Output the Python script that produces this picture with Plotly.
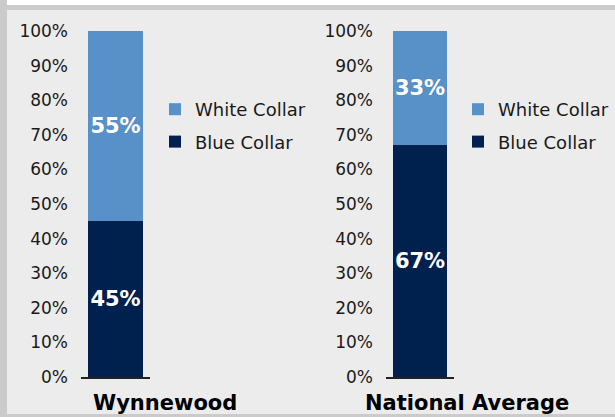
import plotly.graph_objects as go

W, H = 615, 417

locations = ["Wynnewood", "National Average"]
series_names = ["Blue Collar", "White Collar"]
blue_collar = [45, 67]
white_collar = [55, 33]
tick_values = [0, 10, 20, 30, 40, 50, 60, 70, 80, 90, 100]
tick_labels = [f"{v}%" for v in tick_values]

colors = {"Blue Collar": "#00204e", "White Collar": "#5890c8"}
legend_rank = {"White Collar": 1, "Blue Collar": 2}
FONT = "DejaVu Sans"

def px(x):
    return x / W

def py(y):
    return 1 - y / H

fig = go.Figure()

x_domains = [[px(81), px(150)], [px(386), px(454)]]
legend_pos = [px(155), px(458)]
title_x = [px(165), px(467)]

for i, loc in enumerate(locations):
    xa = "x" if i == 0 else "x2"
    ya = "y" if i == 0 else "y2"
    lg = "legend" if i == 0 else "legend2"
    for name, vals in (("Blue Collar", blue_collar), ("White Collar", white_collar)):
        fig.add_trace(go.Bar(
            x=[loc], y=[vals[i]], name=name,
            marker=dict(color=colors[name], line=dict(width=0)),
            width=0.79,
            text=[f"{vals[i]}%"], textposition="inside", insidetextanchor="middle",
            textangle=0, constraintext="none",
            textfont=dict(family=FONT, size=21, color="white", weight="bold"),
            xaxis=xa, yaxis=ya, legend=lg, legendgroup=name + str(i),
            legendrank=legend_rank[name],
            hoverinfo="skip",
        ))

axis_common_y = dict(
    range=[0, 100], tickmode="array", tickvals=tick_values, ticktext=tick_labels,
    showgrid=False, zeroline=False, showline=False, ticks="",
    ticklabelstandoff=12, automargin=False,
    tickfont=dict(family=FONT, size=17, color="#1a1a1a"),
    domain=[py(377), py(31)], fixedrange=True,
)
axis_common_x = dict(
    showticklabels=False, showgrid=False, zeroline=False, automargin=False,
    showline=True, linecolor="#222222", linewidth=2, ticks="",
    fixedrange=True,
)

legend_common = dict(
    traceorder="grouped", tracegroupgap=6,
    font=dict(family=FONT, size=18, color="#1a1a1a"),
    bgcolor="rgba(0,0,0,0)", borderwidth=0,
    xanchor="left", yanchor="top", y=py(91),
)

fig.update_layout(
    width=W, height=H, autosize=False,
    margin=dict(l=0, r=0, t=0, b=0, pad=0, autoexpand=False),
    paper_bgcolor="#ececec", plot_bgcolor="rgba(0,0,0,0)",
    barmode="stack", bargap=0.21,
    xaxis=dict(domain=x_domains[0], anchor="y", **axis_common_x),
    xaxis2=dict(domain=x_domains[1], anchor="y2", **axis_common_x),
    yaxis=dict(anchor="x", **axis_common_y),
    yaxis2=dict(anchor="x2", **axis_common_y),
    legend=dict(x=legend_pos[0], **legend_common),
    legend2=dict(x=legend_pos[1], **legend_common),
    showlegend=True,
)

for i, loc in enumerate(locations):
    fig.add_annotation(
        text=f"<b>{loc}</b>", x=title_x[i], y=py(403), xref="paper", yref="paper",
        xanchor="center", yanchor="middle", showarrow=False,
        font=dict(family=FONT, size=21, color="#000000"),
    )

# frame of the panel
fig.add_shape(type="rect", xref="paper", yref="paper", x0=0, x1=1, y0=py(5), y1=1,
              fillcolor="#ffffff", line=dict(width=0), layer="below")
fig.add_shape(type="rect", xref="paper", yref="paper", x0=0, x1=1, y0=py(10), y1=py(5),
              fillcolor="#cbcbcb", line=dict(width=0), layer="below")
fig.add_shape(type="rect", xref="paper", yref="paper", x0=0, x1=px(7), y0=0, y1=1,
              fillcolor="#cbcbcb", line=dict(width=0), layer="below")
fig.add_shape(type="rect", xref="paper", yref="paper", x0=0, x1=1, y0=0, y1=py(414),
              fillcolor="#cbcbcb", line=dict(width=0), layer="below")

fig.write_html(
    "out.html",
    config={"displayModeBar": False},
    post_script="document.body.style.margin='0px';document.documentElement.style.overflow='hidden';",
)
